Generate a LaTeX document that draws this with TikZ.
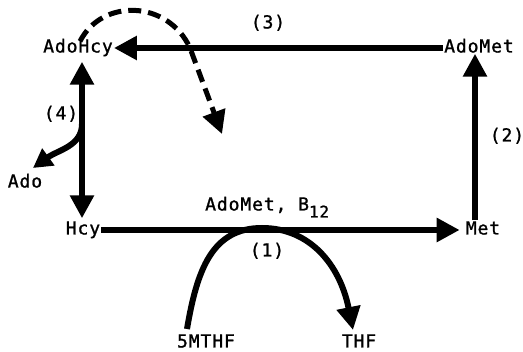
\documentclass[tikz,border=0pt]{standalone}
\usepackage{fontspec}
\setmonofont[FakeBold=1.2,LetterSpace=5]{DejaVu Sans Mono}
\usetikzlibrary{arrows.meta}
\begin{document}
\begin{tikzpicture}[x=1pt,y=-1pt,
  lbl/.style={font=\fontsize{18}{20}\selectfont\ttfamily, inner sep=1pt, text height=13pt, text depth=4pt},
  thick line/.style={line width=6pt},
  bigtip/.style={-{Triangle[length=23pt,width=23pt]}},
  arr/.style={thick line, bigtip},
  dashline/.style={line width=5pt, dash pattern=on 13pt off 7pt, -{Triangle[length=23pt,width=23pt]}}
]
\useasboundingbox (0,0) rectangle (523,352);
% nodes
\node[lbl] (adohcy) at (78,48) {AdoHcy};
\node[lbl] (adomet) at (479,48) {AdoMet};
\node[lbl] (hcy) at (83,230) {Hcy};
\node[lbl] (met) at (483,230) {Met};
\node[lbl] (ado) at (25,183) {Ado};
\node[lbl] (mthf) at (206,343) {5MTHF};
\node[lbl] (thf) at (359,343) {THF};
% labels
\node[lbl] (l3) at (268,24) {(3)};
\node[lbl] (l2) at (507,137) {(2)};
\node[lbl] (l4) at (61,115) {(4)};
\node[lbl] (l1) at (267,252) {(1)};
\node[lbl, anchor=base west] (cof) at (204,210.5) {AdoMet, B\raisebox{-7pt}{\fontsize{16}{16}\selectfont 12}};
% coordinates
\coordinate (branch) at (82,124);
\coordinate (adotip) at (33,168);
\coordinate (dcross) at (190,48);
\coordinate (dtip) at (222,134);
\coordinate (mstart) at (187,329);
\coordinate (top) at (262,228);
\coordinate (ttip) at (353,330);
% connectors
\draw[arr] (adomet.west) -- (adohcy.east);
\draw[arr] ([xshift=-8pt]met.north) -- ([xshift=-4pt,yshift=4pt]adomet.south);
\draw[thick line, {Triangle[length=23pt,width=23pt]}-{Triangle[length=23pt,width=23pt]}, shorten <=4pt, shorten >=2pt]
  ([xshift=4pt]adohcy.south) -- ([xshift=-1pt]hcy.north);
\draw[arr] (hcy.east) -- ([xshift=-5pt]met.west);
\draw[thick line, -{Triangle[length=19pt,width=20pt]}] (branch) .. controls (82,146) and (58,150) .. (adotip);
\draw[dashline] ([xshift=2pt,yshift=-3pt]adohcy.north) .. controls (102,-2) and (168,0) .. (dcross) -- (dtip);
\draw[arr] (mstart) .. controls (197,270) and (212,228) .. (top) .. controls (310,228) and (340,265) .. (ttip);
\end{tikzpicture}
\end{document}
